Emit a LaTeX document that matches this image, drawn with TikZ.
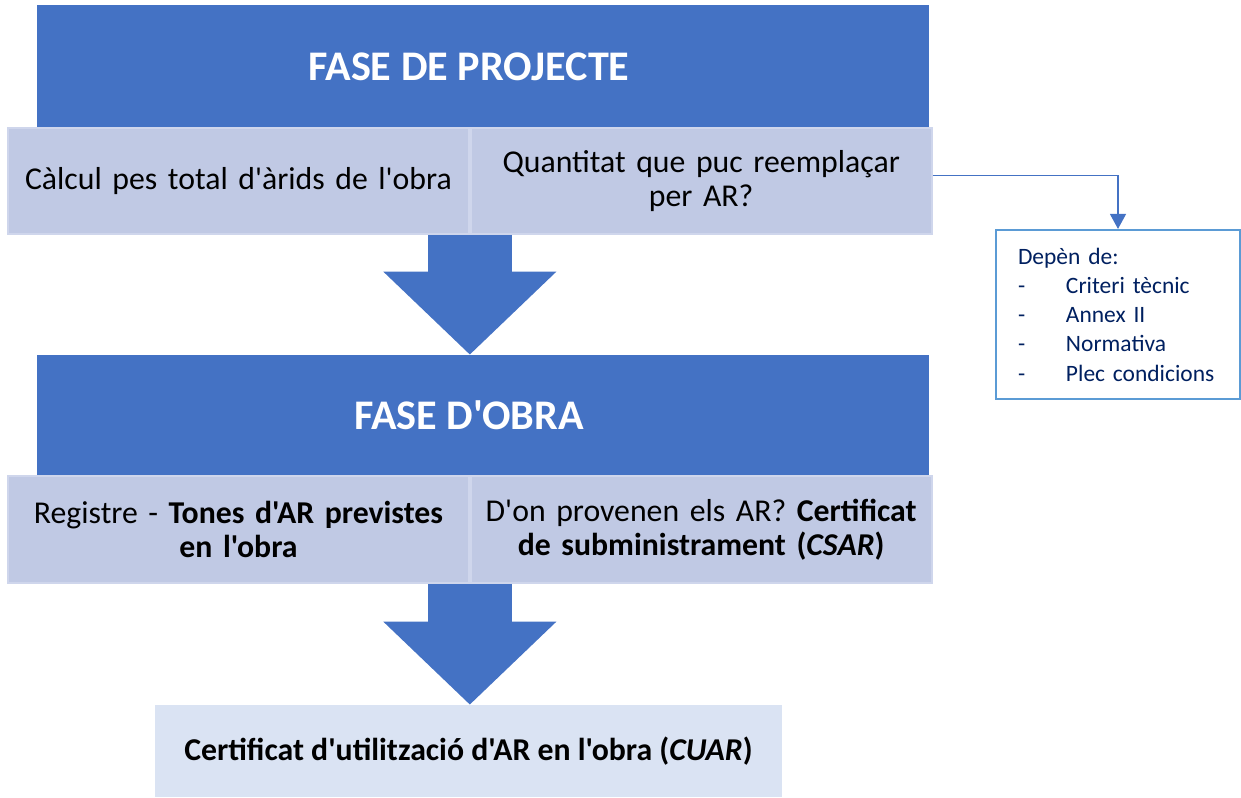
\documentclass[tikz,border=0pt]{standalone}
\usepackage{fontspec}
\setmainfont{Carlito}[Ligatures=TeXOff]
\usetikzlibrary{arrows.meta, positioning}
\definecolor{phaseblue}{RGB}{68,114,196}
\definecolor{steplilac}{RGB}{192,201,228}
\definecolor{stepedge}{RGB}{207,214,236}
\definecolor{resultblue}{RGB}{218,227,243}
\definecolor{noteblue}{RGB}{91,155,213}
\definecolor{notetext}{RGB}{0,32,96}

\begin{document}
\begin{tikzpicture}[
    phase/.style={rectangle, fill=phaseblue, minimum width=22.3cm, inner sep=0pt},
    phasetext/.style={font=\fontsize{30}{36}\selectfont\bfseries, text=white},
    stepbox/.style={rectangle, draw=stepedge, line width=1.2pt, fill=steplilac, minimum width=11.525cm, minimum height=2.65cm, text width=11.2cm, align=center, font=\fontsize{22.6}{24.5}\selectfont},
    bigarrow/.style={draw=phaseblue, line width=2.1cm, -{Triangle[length=2.075cm, width=4.2cm]}},
    link/.style={draw=phaseblue, line width=0.9pt, -{Triangle[length=0.375cm, width=0.4cm]}}
]
\useasboundingbox (0,0) rectangle (31.025,-19.95);

% fase de projecte
\node[phase, minimum height=3.075cm] (proj) at (12.075,-1.6625) {};
\node[phasetext] (projt) at (11.725,-1.6625) {FASE DE PROJECTE};
\node[stepbox] (calc) at (5.9625,-4.525) {Càlcul pes total d'àrids de l'obra};
\node[stepbox, right=0pt of calc] (quant) {Quantitat que puc reemplaçar\\per AR?};

% fase d'obra
\node[phase, minimum height=3.025cm] (obra) at (12.075,-10.3875) {};
\node[phasetext] (obrat) at (11.725,-10.3875) {FASE D'OBRA};
\node[stepbox, minimum height=2.675cm] (reg) at (5.9625,-13.2375) {Registre - \textbf{Tones d'AR previstes}\\\textbf{en l'obra}};
\node[stepbox, minimum height=2.675cm, right=0pt of reg] (prov) {D'on provenen els AR? \textbf{Certificat}\\\textbf{de subministrament (\textit{CSAR})}};

% resultat
\node[rectangle, fill=resultblue, minimum width=15.675cm, minimum height=2.3cm, font=\fontsize{22.6}{24.5}\selectfont\bfseries] (cuar) at (11.7125,-18.775) {Certificat d'utilització d'AR en l'obra (\textit{CUAR})};

% nota
\node[rectangle, draw=noteblue, line width=1.5pt, fill=white, minimum width=6.1cm, minimum height=4.225cm, text width=5cm, align=left, text=notetext, font=\fontsize{16.7}{20.8}\selectfont] (dep) at (27.95,-7.8625) {Depèn de:\\
\makebox[1.2cm][l]{-}Criteri tècnic\\
\makebox[1.2cm][l]{-}Annex II\\
\makebox[1.2cm][l]{-}Normativa\\
\makebox[1.2cm][l]{-}Plec condicions};

\draw[bigarrow] (calc.south east) -- (calc.south east |- obra.north);
\draw[bigarrow] (reg.south east) -- (reg.south east |- cuar.north);
\draw[link] ([yshift=0.14cm]quant.east) -| (dep.north);
\end{tikzpicture}
\end{document}
